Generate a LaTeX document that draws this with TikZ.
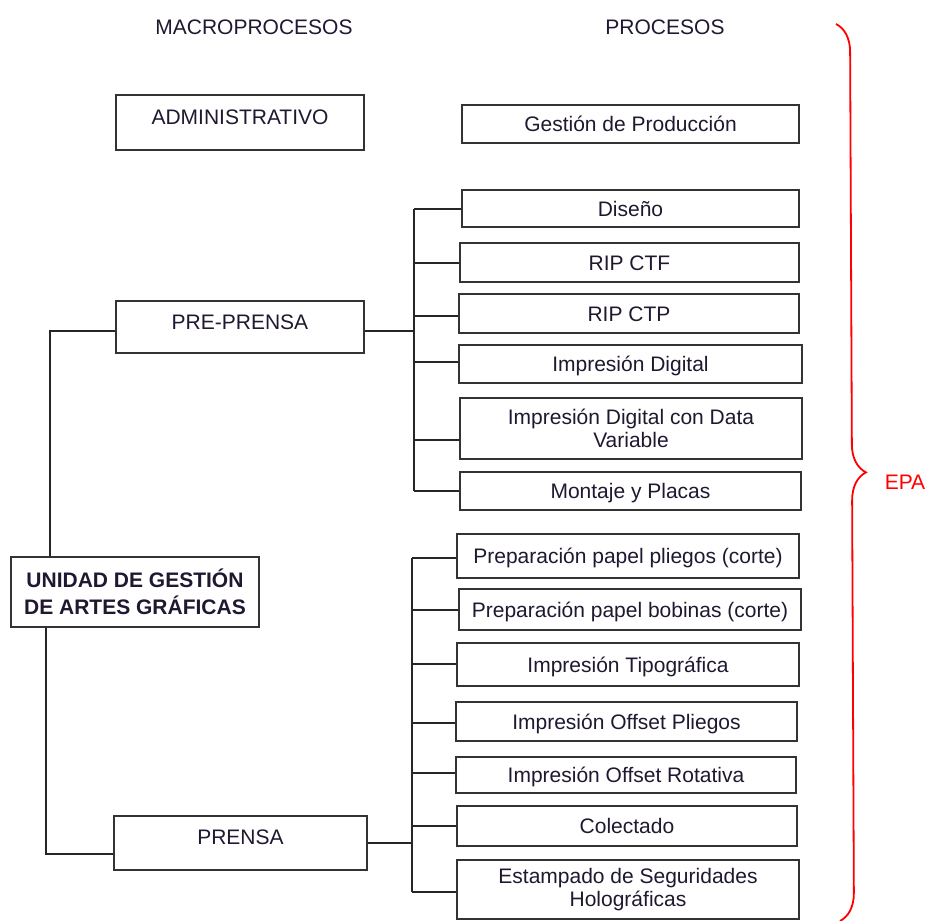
\documentclass[tikz,border=0pt]{standalone}
\usepackage{fontspec}
\setmainfont{Liberation Sans}
\usetikzlibrary{decorations.pathreplacing}
\definecolor{boxline}{HTML}{333333}
\definecolor{txt}{HTML}{201830}
\definecolor{epared}{HTML}{FF0000}
\newcommand\mybranch[3]{%
  \coordinate (#2c) at ([yshift=#3]#2.west);
  \draw[conn] (#1 |- #2c) -- (#2c);}
\begin{document}
\begin{tikzpicture}[x=1pt,y=-1pt,
  box/.style={draw=boxline, line width=1.7pt, fill=white, inner sep=0pt,
    text=txt, font=\fontsize{21}{23}\selectfont, align=center},
  one/.style={text height=15pt, text depth=0pt},
  conn/.style={draw=black!85, line width=1.6pt},
  title/.style={text=txt, font=\fontsize{21}{23}\selectfont, inner sep=0pt,
    text height=15pt, text depth=0pt}]
\useasboundingbox (0,0) rectangle (930,921);

% titles
\node[title] (macro) at (254,27) {MACROPROCESOS};
\node[title] (proc) at (665,27) {PROCESOS};

% macroprocesses
\node[box, one, minimum width=248pt, minimum height=55pt] (admin) at (240,122.5) {\raisebox{5.5pt}{ADMINISTRATIVO}};
\node[box, one, minimum width=248pt, minimum height=52pt] (pre) at (240,327) {\raisebox{5pt}{PRE-PRENSA}};
\node[box, one, minimum width=253pt, minimum height=54pt] (prensa) at (240.5,843) {\raisebox{6pt}{PRENSA}};
\node[box, minimum width=248pt, minimum height=70pt, font=\fontsize{21}{27}\selectfont\bfseries] (unidad) at (135,592) {UNIDAD DE GESTIÓN\\DE ARTES GRÁFICAS};

% processes
\node[box, one, minimum width=337pt, minimum height=38pt] (gp) at (630.5,124) {Gestión de Producción};
\node[box, one, minimum width=337pt, minimum height=37pt] (dis) at (630.5,208.5) {Diseño};
\node[box, one, minimum width=339pt, minimum height=39pt] (ctf) at (629.5,262.5) {RIP CTF};
\node[box, one, minimum width=340pt, minimum height=39pt] (ctp) at (629,313.5) {RIP CTP};
\node[box, one, minimum width=343pt, minimum height=38pt] (idig) at (630.5,364) {Impresión Digital};
\node[box, minimum width=342pt, minimum height=61pt] (idv) at (631,428.5) {Impresión Digital con Data\\Variable};
\node[box, one, minimum width=341pt, minimum height=38pt] (mont) at (630.5,491) {Montaje y Placas};

\node[box, one, minimum width=342pt, minimum height=44pt] (ppl) at (628,556) {Preparación papel pliegos (corte)};
\node[box, one, minimum width=342pt, minimum height=41pt] (pbo) at (630,609.5) {Preparación papel bobinas (corte)};
\node[box, one, minimum width=342pt, minimum height=43pt] (tip) at (628,664.5) {Impresión Tipográfica};
\node[box, one, minimum width=341pt, minimum height=39pt] (ofp) at (626.5,721.5) {Impresión Offset Pliegos};
\node[box, one, minimum width=340pt, minimum height=36pt] (ofr) at (626,775) {Impresión Offset Rotativa};
\node[box, one, minimum width=340pt, minimum height=40pt] (col) at (627,826) {Colectado};
\node[box, minimum width=342pt, minimum height=59pt] (est) at (628,889.5) {Estampado de Seguridades\\Holográficas};

% junctions
\coordinate (b1) at (414,331);
\coordinate (b2) at (412,843);
\coordinate (u1) at (50,331);
\coordinate (u2) at (46,854);

% unidad to macroprocesses
\draw[conn] (u1 |- unidad.north) -- (u1) -- ([yshift=-4pt]pre.west);
\draw[conn] (u2 |- unidad.south) -- (u2) -- (prensa.west |- u2);

% pre-prensa tree
\draw[conn] ([yshift=-4pt]pre.east) -- (b1);
\mybranch{b1}{dis}{-0.5pt}
\mybranch{b1}{ctf}{-0.5pt}
\mybranch{b1}{ctp}{-2.5pt}
\mybranch{b1}{idig}{2pt}
\mybranch{b1}{idv}{-11.5pt}
\mybranch{b1}{mont}{0pt}
\draw[conn] (b1 |- disc) -- (b1 |- montc);

% prensa tree
\draw[conn] (prensa.east) -- (b2);
\mybranch{b2}{ppl}{-2pt}
\mybranch{b2}{pbo}{-0.5pt}
\mybranch{b2}{tip}{0.5pt}
\mybranch{b2}{ofp}{-1.5pt}
\mybranch{b2}{ofr}{2pt}
\mybranch{b2}{col}{0pt}
\mybranch{b2}{est}{-2.5pt}
\draw[conn] (b2 |- pplc) -- (b2 |- estc);

% brace
\coordinate (brtop) at (836,24);
\coordinate (brbot) at (840,921);
\draw[epared, line width=1.8pt, decorate, decoration={brace, amplitude=28pt}] (brtop) -- (brbot);
\node[title, text=epared] (epa) at (905,482) {EPA};
\end{tikzpicture}
\end{document}
